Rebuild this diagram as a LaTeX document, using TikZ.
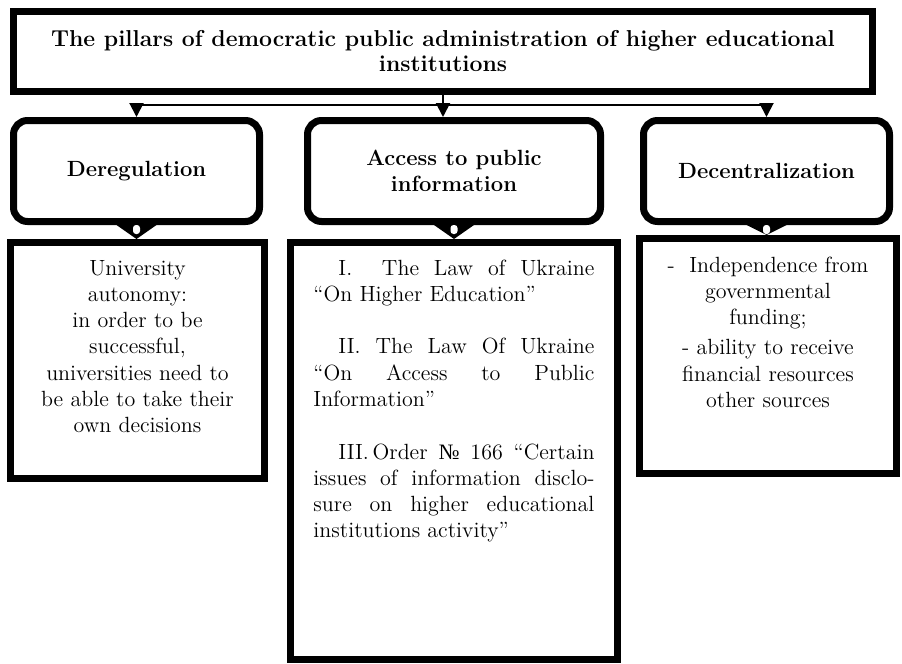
\documentclass[tikz,border=0pt]{standalone}
\usepackage{amsmath}
\usepackage{fontspec}
\usepackage{tikz}
\usetikzlibrary{arrows.meta}
\newfontfamily\numerofont{Liberation Serif}
\tolerance=9999
\hbadness=10000

\begin{document}
\begin{tikzpicture}[x=0.5pt, y=-0.5pt,
    titlebox/.style={draw, line width=3.5pt, align=center,
      font=\fontsize{11.5}{12.5}\selectfont\bfseries,
      minimum width=429.5pt, minimum height=40pt},
    pillarbox/.style={draw, line width=3.5pt, rounded corners=7pt, align=center,
      font=\fontsize{11}{13}\selectfont\bfseries, minimum height=50.5pt},
    infobox/.style={draw, line width=3.5pt, anchor=north, inner ysep=0pt,
      font=\fontsize{11}{13.15}\selectfont},
    conn/.style={line width=1pt, -{Triangle[length=7pt, width=7pt]}}]
  \useasboundingbox (0,0) rectangle (902,664);

  % top level
  \node[titlebox] (pillars) at (443,51.5)
    {The pillars of democratic public administration of higher educational\\institutions};

  % the three pillars
  \node[pillarbox, minimum width=123pt] (dereg) at (136.5,171) {Deregulation};
  \node[pillarbox, minimum width=146.5pt] (access) at (454,171) {Access to public\\information};
  \node[pillarbox, minimum width=123pt] (decentr) at (766.5,171) {Decentralization};

  % contents
  \node[infobox, text width=120pt, align=center, text height=16.25pt, text depth=101.75pt]
    (dereginfo) at (137.5,239)
    {University\\autonomy:\\in order to be\\successful,\\universities need to\\be able to take their\\own decisions};
  \node[infobox, text width=140.5pt, inner xsep=11.5pt, align=justify, text height=16.25pt, text depth=192.25pt]
    (accessinfo) at (454,239)
    {\hspace*{12.5pt}I.~~The Law of Ukraine\linebreak ``On Higher Education''\par\vspace{13.15pt}
     \hspace*{12.5pt}II. The Law Of Ukraine\linebreak ``On Access to Public\linebreak Information''\par\vspace{13.15pt}
     \hspace*{12.5pt}III.\,Order {\numerofont №} 166 ``Certain\linebreak issues of information disclo-\linebreak sure on higher educational\linebreak institutions activity''};
  \node[infobox, text width=121.5pt, align=center, text height=16.75pt, text depth=100.75pt]
    (decentrinfo) at (768,235)
    {-~~Independence from\\governmental\\funding;\\[2pt]- ability to receive\\financial resources\\other sources};

  % connectors
  \coordinate (split) at ([yshift=-5pt]pillars.south);
  \draw[conn] (pillars.south) -- (pillars.south |- access.north);
  \draw[conn] (split) -| (dereg.north);
  \draw[conn] (split) -| (decentr.north);

  \foreach \boxname/\infoname in {dereg/dereginfo, access/accessinfo, decentr/decentrinfo}{
    \fill ([xshift=-10pt]\boxname.south) -- ([xshift=10pt]\boxname.south) -- (\boxname.south |- \infoname.north) -- cycle;
    \fill[white, rounded corners=1.5pt] ([xshift=-1.75pt]\boxname.south) rectangle ([xshift=1.75pt, yshift=-4.5pt]\boxname.south);
  }
\end{tikzpicture}
\end{document}
